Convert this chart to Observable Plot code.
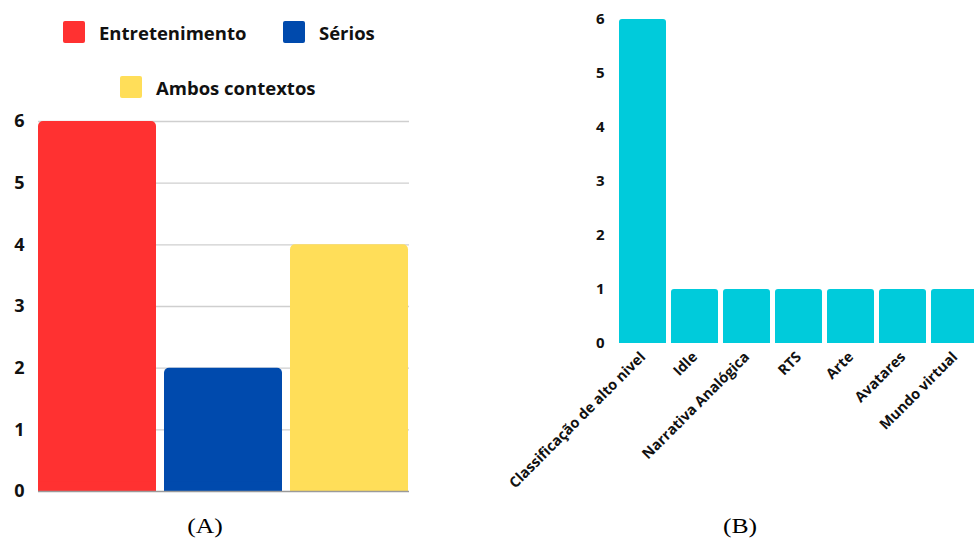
<!DOCTYPE html>
<html>
<head>
<meta charset="utf-8">
<script src="https://cdn.jsdelivr.net/npm/d3@7"></script>
<script src="https://cdn.jsdelivr.net/npm/@observablehq/plot@0.6"></script>
<style>
  html, body { margin: 0; padding: 0; background: #fff; }
  #wrap { position: relative; width: 974px; height: 541px; overflow: hidden; font-family: "Open Sans", sans-serif; }
  .leg { position: absolute; display: flex; align-items: center; font-weight: 700; font-size: 18.5px; color: #111; white-space: nowrap; }
  .sw { width: 22px; height: 22px; border-radius: 2px; margin-right: 14px; }
  .cap { position: absolute; width: 80px; text-align: center; font-family: "Liberation Serif", "Times New Roman", serif; font-size: 21px; color: #000; transform: scaleX(1.22); }
</style>
</head>
<body>
<div id="wrap"></div>
<script>
// ---- Data ----
const categoriesA = ["Entretenimento", "Sérios", "Ambos contextos"];
const valuesA = [6, 2, 4];
const colorsA = ["#FF3131", "#004AAD", "#FFDE59"];
const ticksA = [0, 1, 2, 3, 4, 5, 6];

const categoriesB = ["Classificação de alto nivel", "Idle", "Narrativa Analógica", "RTS", "Arte", "Avatares", "Mundo virtual"];
const valuesB = [6, 1, 1, 1, 1, 1, 1];
const colorB = "#00CBDB";
const ticksB = [0, 1, 2, 3, 4, 5, 6];

const captions = ["(A)", "(B)"];

const wrap = document.getElementById("wrap");

// ---- Legend A ----
const legendPos = [[63, 21], [283, 21], [120, 76]];
categoriesA.forEach((c, i) => {
  const d = document.createElement("div");
  d.className = "leg";
  d.style.left = legendPos[i][0] + "px";
  d.style.top = legendPos[i][1] + "px";
  d.style.height = "22px";
  d.innerHTML = `<div class="sw" style="background:${colorsA[i]}"></div><span>${c}</span>`;
  wrap.appendChild(d);
});

// ---- Chart A ----
const dataA = categoriesA.map((c, i) => ({cat: c, value: valuesA[i], color: colorsA[i]}));
const chartA = Plot.plot({
  width: 420,
  height: 400,
  marginLeft: 38,
  marginRight: 11,
  marginTop: 21,
  marginBottom: 9,
  style: {fontFamily: "Open Sans", fontWeight: 700, fontSize: "18px", color: "#111", background: "transparent", overflow: "visible"},
  x: {domain: categoriesA, paddingInner: 0.06, paddingOuter: 0, axis: null},
  y: {domain: [0, 6], ticks: ticksA, axis: null},
  marks: [
    Plot.ruleY(ticksA.filter(t => t > 0), {stroke: "#cfcfcf", strokeWidth: 1.3}),
    Plot.barY(dataA, {x: "cat", y: "value", fill: "color", rx: 5}),
    Plot.barY(dataA, {x: "cat", y1: 0, y2: d => Math.min(d.value, 0.15), fill: "color"}),
    Plot.ruleY([0], {stroke: "#9a9a9a", strokeWidth: 1.3}),
    Plot.axisY({ticks: ticksA, tickSize: 0, tickPadding: 14, tickFormat: d => d, fontSize: 18, fontWeight: 700, label: null})
  ]
});
chartA.style.position = "absolute";
chartA.style.left = "0px";
chartA.style.top = "100px";
wrap.appendChild(chartA);

// ---- Chart B ----
const dataB = categoriesB.map((c, i) => ({cat: c, value: valuesB[i]}));
const chartB = Plot.plot({
  width: 422,
  height: 500,
  marginLeft: 56,
  marginRight: 0,
  marginTop: 19,
  marginBottom: 157,
  style: {fontFamily: "Open Sans", fontWeight: 700, fontSize: "14.5px", color: "#111", background: "transparent", overflow: "visible"},
  x: {domain: categoriesB, paddingInner: 0.094, paddingOuter: 0, axis: null},
  y: {domain: [0, 6], ticks: ticksB, axis: null},
  marks: [
    Plot.barY(dataB, {x: "cat", y: "value", fill: colorB, rx: 3}),
    Plot.barY(dataB, {x: "cat", y1: 0, y2: d => Math.min(d.value, 0.15), fill: colorB}),
    Plot.axisY({ticks: ticksB, tickSize: 0, tickPadding: 12, tickFormat: d => d, fontSize: 15, fontWeight: 700, label: null}),
    Plot.axisX({tickSize: 0, tickPadding: 11, tickRotate: -45, fontSize: 14.5, fontWeight: 700, label: null})
  ]
});
chartB.style.position = "absolute";
chartB.style.left = "560px";
chartB.style.top = "0px";
wrap.appendChild(chartB);

// ---- Captions ----
[205, 740].forEach((x, i) => {
  const d = document.createElement("div");
  d.className = "cap";
  d.textContent = captions[i];
  d.style.left = (x - 40) + "px";
  d.style.top = "514px";
  wrap.appendChild(d);
});
</script>
</body>
</html>
